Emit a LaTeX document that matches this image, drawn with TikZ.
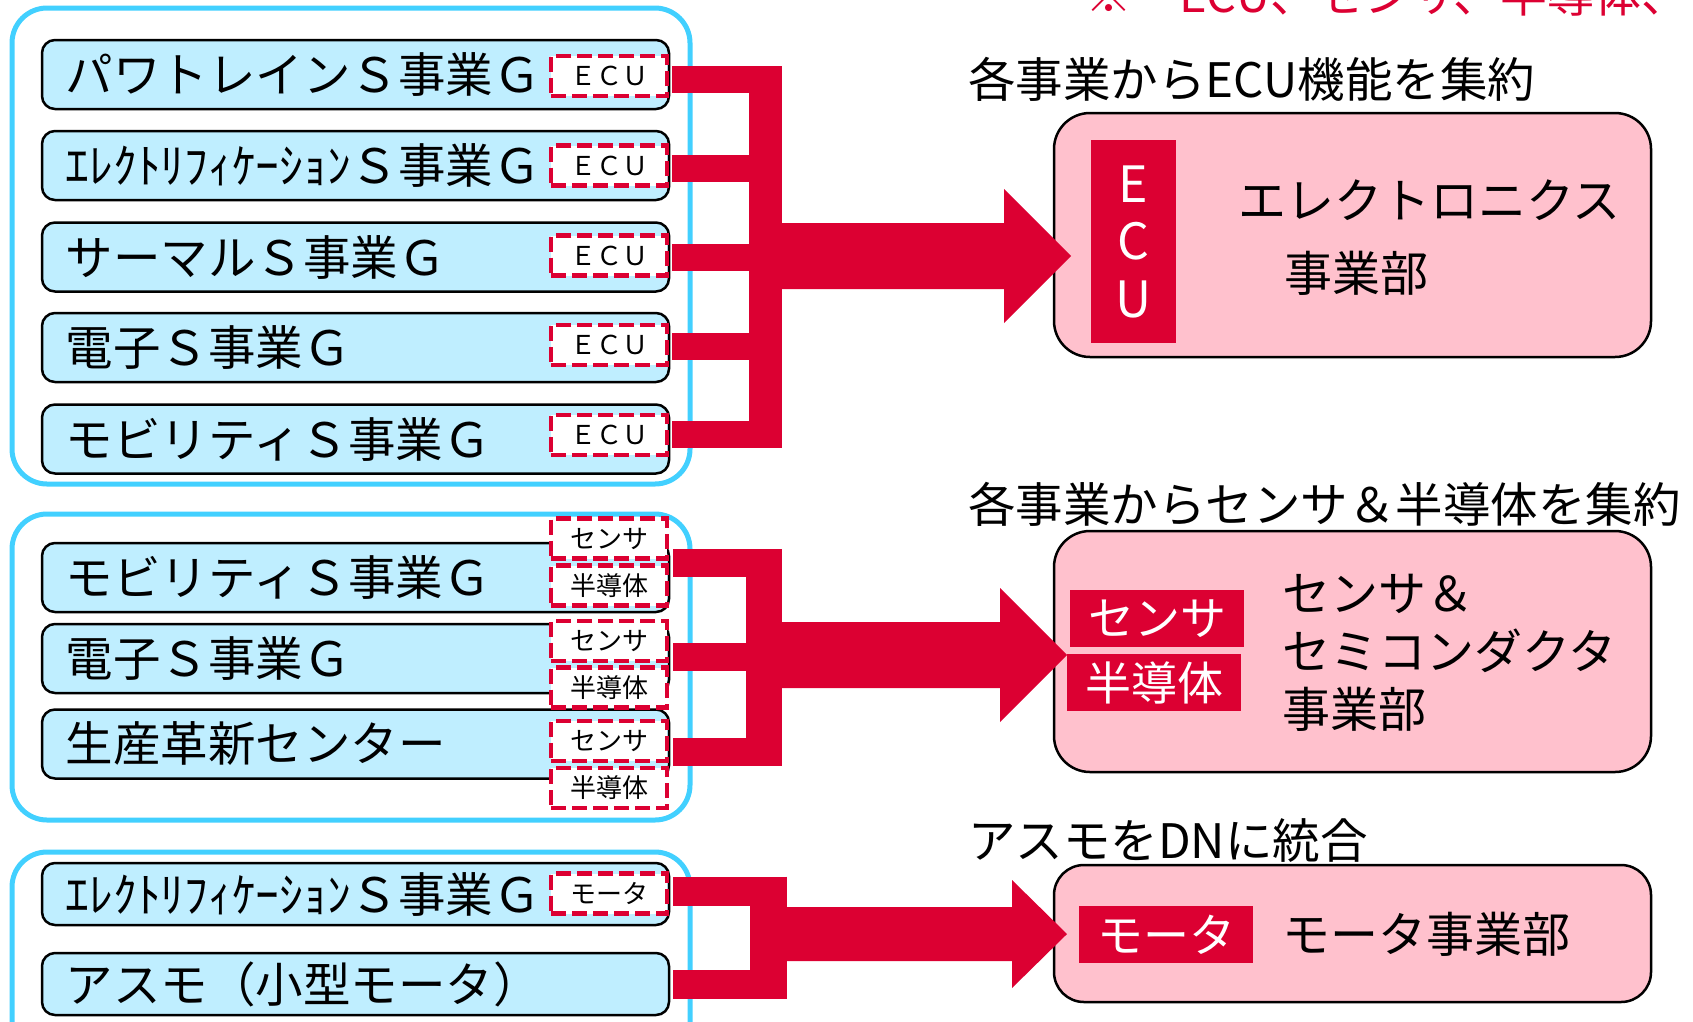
\documentclass[tikz,border=0pt]{standalone}
\usepackage{fontspec}
\setmainfont{Noto Sans CJK JP}
\usetikzlibrary{calc}
\definecolor{redc}{RGB}{220,0,50}
\definecolor{cyanb}{RGB}{66,208,255}
\definecolor{rowf}{RGB}{191,238,255}
\definecolor{pinkf}{RGB}{255,193,205}
\newcommand{\myfs}[1]{\fontsize{#1pt}{#1pt}\selectfont}
\begin{document}
\begin{tikzpicture}[x=1pt,y=-1pt,
  group/.style={draw=cyanb, line width=5pt, rounded corners=35pt},
  rowbox/.style={draw=black, line width=2.5pt, fill=rowf, rounded corners=13pt,
    minimum width=627pt, minimum height=69pt, inner sep=0pt},
  rowtext/.style={anchor=west, inner sep=0pt, font={\myfs{47.5}}},
  dbox/.style={draw=redc, line width=4.5pt, dash pattern=on 15pt off 6pt, fill=white,
    minimum width=116pt, minimum height=40pt, inner sep=0pt, font={\myfs{26}}},
  pinkbox/.style={draw=black, line width=2.5pt, fill=pinkf, rounded corners=36pt,
    minimum width=597pt, inner sep=0pt},
  redblock/.style={fill=redc, text=white, inner sep=0pt, font={\myfs{46}}},
  btext/.style={anchor=west, inner sep=0pt, font={\myfs{48}}},
  head/.style={anchor=west, inner sep=0pt, font={\myfs{47.5}}},
]
\useasboundingbox (0,0) rectangle (1693,1021);

% note text at top (cut off by the frame)
\node[anchor=west, inner sep=0pt, text=redc, font={\myfs{47}}] (note) at (1085,-5) {※　ECU、センサ、半導体、モ};

% group frames
\draw[group] (12,8) rectangle (690,484);
\draw[group] (12,514) rectangle (690,820);
\draw[group] (12,852) rectangle (690,1060);

% section 1 rows
\node[rowbox] (r1) at (355.5,74.5) {};
\node[rowbox] (r2) at (355.5,165.5) {};
\node[rowbox] (r3) at (355.5,257) {};
\node[rowbox] (r4) at (355.5,347.5) {};
\node[rowbox] (r5) at (355.5,439) {};
\node[rowtext] (t1) at ($(r1.west)+(25,0)$) {パワトレインＳ事業Ｇ};
\node[rowtext] (t2) at ($(r2.west)+(25,0)$) {ｴﾚｸﾄﾘﾌｨｹｰｼｮﾝＳ事業Ｇ};
\node[rowtext] (t3) at ($(r3.west)+(25,0)$) {サーマルＳ事業Ｇ};
\node[rowtext] (t4) at ($(r4.west)+(25,0)$) {電子Ｓ事業Ｇ};
\node[rowtext] (t5) at ($(r5.west)+(25,0)$) {モビリティＳ事業Ｇ};
\node[dbox] (e1) at (609,76) {ＥＣＵ};
\node[dbox] (e2) at (609,165.5) {ＥＣＵ};
\node[dbox] (e3) at (609,255.5) {ＥＣＵ};
\node[dbox] (e4) at (609,345) {ＥＣＵ};
\node[dbox] (e5) at (609,435) {ＥＣＵ};

% section 2 rows
\node[rowbox] (r6) at (355.5,577.5) {};
\node[rowbox] (r7) at (355.5,658.5) {};
\node[rowbox] (r8) at (355.5,744) {};
\node[rowtext] (t6) at ($(r6.west)+(25,0)$) {モビリティＳ事業Ｇ};
\node[rowtext] (t7) at ($(r7.west)+(25,0)$) {電子Ｓ事業Ｇ};
\node[rowtext] (t8) at ($(r8.west)+(25,0)$) {生産革新センター};
\node[dbox] (s6) at (609,538.5) {センサ};
\node[dbox] (m6) at (609,585.5) {半導体};
\node[dbox] (s7) at (609,641) {センサ};
\node[dbox] (m7) at (609,687.5) {半導体};
\node[dbox] (s8) at (609,741) {センサ};
\node[dbox] (m8) at (609,788) {半導体};

% section 3 rows
\node[rowbox, minimum height=62pt] (r9) at (355.5,894) {};
\node[rowbox, minimum height=62pt] (r10) at (355.5,984) {};
\node[rowtext] (t9) at ($(r9.west)+(25,0)$) {ｴﾚｸﾄﾘﾌｨｹｰｼｮﾝＳ事業Ｇ};
\node[rowtext] (t10) at ($(r10.west)+(25,0)$) {アスモ（小型モータ）};
\node[dbox] (o9) at (609,893.5) {モータ};

% target boxes
\node[pinkbox, minimum height=244pt] (d1) at (1352.5,235) {};
\node[pinkbox, minimum height=241pt] (d2) at (1352.5,651.5) {};
\node[pinkbox, minimum height=137pt, rounded corners=30pt] (d3) at (1352.5,933.5) {};

\node[redblock, minimum width=85pt, minimum height=203pt, align=center,
      font={\fontsize{50pt}{57.5pt}\selectfont}] (ecu) at (1133.5,241.5) {E\\C\\U};
\node[redblock, minimum width=174pt, minimum height=57pt] (sen) at (1157,618.5) {センサ};
\node[redblock, minimum width=174pt, minimum height=57pt] (han) at (1154,682.5) {半導体};
\node[redblock, minimum width=174pt, minimum height=57pt] (mot) at (1166,934.5) {モータ};

\node[btext] (d1a) at (1238,200) {エレクトロニクス};
\node[btext] (d1b) at (1284,273) {事業部};
\node[btext] (d2a) at (1282,594) {センサ＆};
\node[btext] (d2b) at (1282,651) {セミコンダクタ};
\node[btext] (d2c) at (1282,709) {事業部};
\node[btext] (d3a) at (1282,934) {モータ事業部};

% headings
\node[head] (h1t) at (968,79) {各事業からECU機能を集約};
\node[head] (h2t) at (968,504) {各事業からセンサ＆半導体を集約};
\node[head] (h3t) at (968,841) {アスモをDNに統合};

% ---- connectors section 1
\coordinate (v1) at (765.5,256);
\coordinate (hb1) at (1004,256);
\coordinate (tip1) at (1071,256);
\path (r1.east) ++(2,5) coordinate (c1);
\path (r2.east) ++(2,3) coordinate (c2);
\path (r3.east) ++(2,0) coordinate (c3);
\path (r4.east) ++(2,-1) coordinate (c4);
\path (r5.east) ++(2,-4.5) coordinate (c5);
\foreach \c in {c1,c2,c3,c4,c5} \draw[redc, line width=27pt] (\c) -- (\c -| v1);
\draw[redc, line width=33pt, shorten <=-13.5pt, shorten >=-13.5pt] (c1 -| v1) -- (c5 -| v1);
\fill[redc] ($(v1)+(0,-33)$) -- ($(hb1)+(0,-33)$) -- ($(hb1)+(0,-67)$) -- (tip1)
  -- ($(hb1)+(0,67)$) -- ($(hb1)+(0,33)$) -- ($(v1)+(0,33)$) -- cycle;

% ---- connectors section 2
\coordinate (v2) at (764,655);
\coordinate (hb2) at (1000,655);
\coordinate (tip2) at (1067,655);
\path (r6.east) ++(3,-14.5) coordinate (c6);
\path (r7.east) ++(3,-1.5) coordinate (c7);
\path (r8.east) ++(3,7.5) coordinate (c8);
\foreach \c in {c6,c7,c8} \draw[redc, line width=28pt] (\c) -- (\c -| v2);
\draw[redc, line width=36pt, shorten <=-14pt, shorten >=-14pt] (c6 -| v2) -- (c8 -| v2);
\fill[redc] ($(v2)+(0,-33)$) -- ($(hb2)+(0,-33)$) -- ($(hb2)+(0,-67)$) -- (tip2)
  -- ($(hb2)+(0,67)$) -- ($(hb2)+(0,33)$) -- ($(v2)+(0,33)$) -- cycle;

% ---- connectors section 3
\coordinate (v3) at (768.5,934);
\coordinate (hb3) at (1012,934);
\coordinate (tip3) at (1067,934);
\path (r9.east) ++(3,-3) coordinate (c9);
\path (r10.east) ++(3,0) coordinate (c10);
\foreach \c in {c9,c10} \draw[redc, line width=29pt] (\c) -- (\c -| v3);
\draw[redc, line width=37pt, shorten <=-14.5pt, shorten >=-14.5pt] (c9 -| v3) -- (c10 -| v3);
\fill[redc] ($(v3)+(0,-27)$) -- ($(hb3)+(0,-27)$) -- ($(hb3)+(0,-54)$) -- (tip3)
  -- ($(hb3)+(0,54)$) -- ($(hb3)+(0,27)$) -- ($(v3)+(0,27)$) -- cycle;
\end{tikzpicture}
\end{document}
